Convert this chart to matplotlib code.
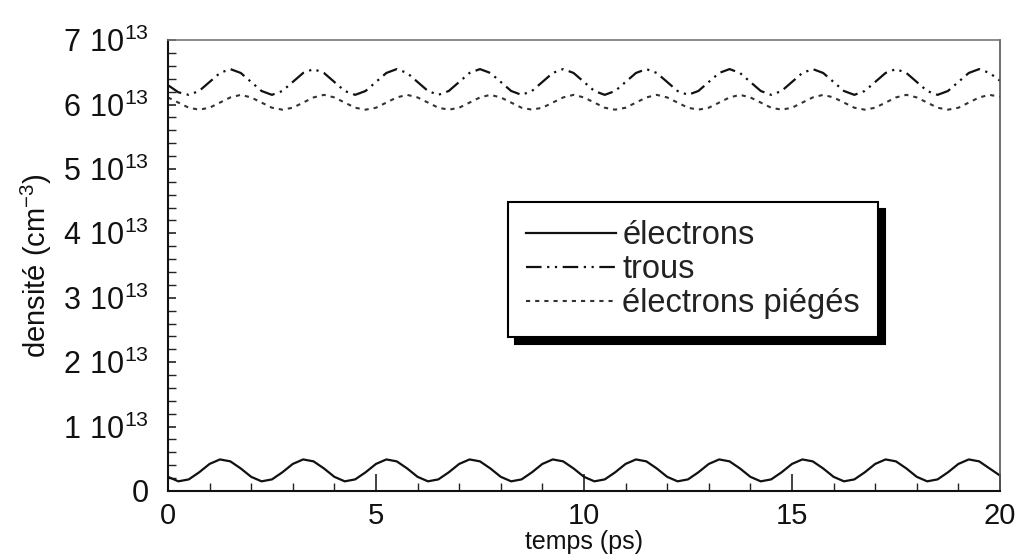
import matplotlib.pyplot as plt
from matplotlib.ticker import MultipleLocator, FuncFormatter

plt.rcParams['font.family'] = ['Liberation Sans', 'DejaVu Sans']
plt.rcParams['mathtext.fontset'] = 'custom'
plt.rcParams['mathtext.rm'] = 'Liberation Sans'

# time axis (ps), one reading every 0.25 ps
t = [i * 0.25 for i in range(81)]

# densities in units of 1e13 cm^-3
electrons = [
    0.22, 0.15, 0.18, 0.29, 0.42, 0.49, 0.46, 0.35,
    0.22, 0.15, 0.18, 0.29, 0.42, 0.49, 0.46, 0.35,
    0.22, 0.15, 0.18, 0.29, 0.42, 0.49, 0.46, 0.35,
    0.22, 0.15, 0.18, 0.29, 0.42, 0.49, 0.46, 0.35,
    0.22, 0.15, 0.18, 0.29, 0.42, 0.49, 0.46, 0.35,
    0.22, 0.15, 0.18, 0.29, 0.42, 0.49, 0.46, 0.35,
    0.22, 0.15, 0.18, 0.29, 0.42, 0.49, 0.46, 0.35,
    0.22, 0.15, 0.18, 0.29, 0.42, 0.49, 0.46, 0.35,
    0.22, 0.15, 0.18, 0.29, 0.42, 0.49, 0.46, 0.35,
    0.22, 0.15, 0.18, 0.29, 0.42, 0.49, 0.46, 0.35,
    0.24,
]
trous = [
    6.30, 6.19, 6.15, 6.21, 6.35, 6.49, 6.55, 6.49,
    6.35, 6.21, 6.15, 6.21, 6.35, 6.49, 6.55, 6.49,
    6.35, 6.21, 6.15, 6.21, 6.35, 6.49, 6.55, 6.49,
    6.35, 6.21, 6.15, 6.21, 6.35, 6.49, 6.55, 6.49,
    6.35, 6.21, 6.15, 6.21, 6.35, 6.49, 6.55, 6.49,
    6.35, 6.21, 6.15, 6.21, 6.35, 6.49, 6.55, 6.49,
    6.35, 6.21, 6.15, 6.21, 6.35, 6.49, 6.55, 6.49,
    6.35, 6.21, 6.15, 6.21, 6.35, 6.49, 6.55, 6.49,
    6.35, 6.21, 6.15, 6.21, 6.35, 6.49, 6.55, 6.49,
    6.35, 6.21, 6.15, 6.21, 6.35, 6.49, 6.55, 6.49,
    6.37,
]
pieges = [
    6.11, 6.03, 5.95, 5.92, 5.95, 6.03, 6.11, 6.15,
    6.11, 6.03, 5.95, 5.92, 5.95, 6.03, 6.11, 6.15,
    6.11, 6.03, 5.95, 5.92, 5.95, 6.03, 6.11, 6.15,
    6.11, 6.03, 5.95, 5.92, 5.95, 6.03, 6.11, 6.15,
    6.11, 6.03, 5.95, 5.92, 5.95, 6.03, 6.11, 6.15,
    6.11, 6.03, 5.95, 5.92, 5.95, 6.03, 6.11, 6.15,
    6.11, 6.03, 5.95, 5.92, 5.95, 6.03, 6.11, 6.15,
    6.11, 6.03, 5.95, 5.92, 5.95, 6.03, 6.11, 6.15,
    6.11, 6.03, 5.95, 5.92, 5.95, 6.03, 6.11, 6.15,
    6.11, 6.03, 5.95, 5.92, 5.95, 6.03, 6.11, 6.15,
    6.12,
]
labels = ['électrons', 'trous', 'électrons piégés']

fig = plt.figure(figsize=(10.21, 5.57), dpi=100)
ax = fig.add_axes([0.1645, 0.1185, 0.8149, 0.8095])

ax.plot(t, [v * 1e13 for v in electrons], color='#111111', lw=1.6, label=labels[0])
ax.plot(t, [v * 1e13 for v in trous], color='#111111', lw=1.6,
        linestyle=(0, (7, 2.5, 1, 2.5, 1, 2.5)), label=labels[1])
ax.plot(t, [v * 1e13 for v in pieges], color='#333333', lw=1.5,
        linestyle=(0, (2, 2.4)), label=labels[2])

ax.set_xlim(0, 20)
ax.set_ylim(0, 7e13)
ax.xaxis.set_major_locator(MultipleLocator(5))
ax.xaxis.set_minor_locator(MultipleLocator(1))
ax.yaxis.set_major_locator(MultipleLocator(1e13))
ax.yaxis.set_minor_locator(MultipleLocator(0.2e13))


def yfmt(v, pos):
    n = int(round(v / 1e13))
    if n == 0:
        return '0'
    return r'$\mathregular{%d\ 10^{13}}$' % n


ax.yaxis.set_major_formatter(FuncFormatter(yfmt))

ax.tick_params(axis='both', which='both', direction='in', top=False, right=False,
               labelcolor='#111111', color='#222222')
ax.tick_params(axis='x', which='major', length=12, width=1.2, pad=8, labelsize=21)
ax.tick_params(axis='x', which='minor', length=6, width=1.0)
ax.tick_params(axis='y', which='major', length=6, width=1.2, pad=14, labelsize=22)
ax.tick_params(axis='y', which='minor', length=6, width=1.0)

ax.spines['left'].set_linewidth(1.5)
ax.spines['bottom'].set_linewidth(1.5)
ax.spines['left'].set_color('#111111')
ax.spines['bottom'].set_color('#111111')
ax.spines['top'].set_color('#777777')
ax.spines['right'].set_color('#555555')
ax.spines['top'].set_linewidth(1.2)
ax.spines['right'].set_linewidth(1.2)

ax.set_xlabel('temps (ps)', fontsize=18, color='#111111', labelpad=0)
ax.set_ylabel(r'densité (cm$^{\mathregular{-3}}$)', fontsize=21, color='#111111', labelpad=6)

leg = ax.legend(loc='upper left', bbox_to_anchor=(0.409, 0.641), fontsize=23.5,
                handlelength=2.75, handletextpad=0.2, labelspacing=0.1,
                borderpad=0.55, borderaxespad=0, fancybox=False, framealpha=1,
                shadow={'color': 'black', 'alpha': 1, 'ox': 5, 'oy': -5})
leg.get_frame().set_edgecolor('black')
leg.get_frame().set_linewidth(1.5)
for txt in leg.get_texts():
    txt.set_color('#222222')

fig.savefig('out.png', dpi=100)
